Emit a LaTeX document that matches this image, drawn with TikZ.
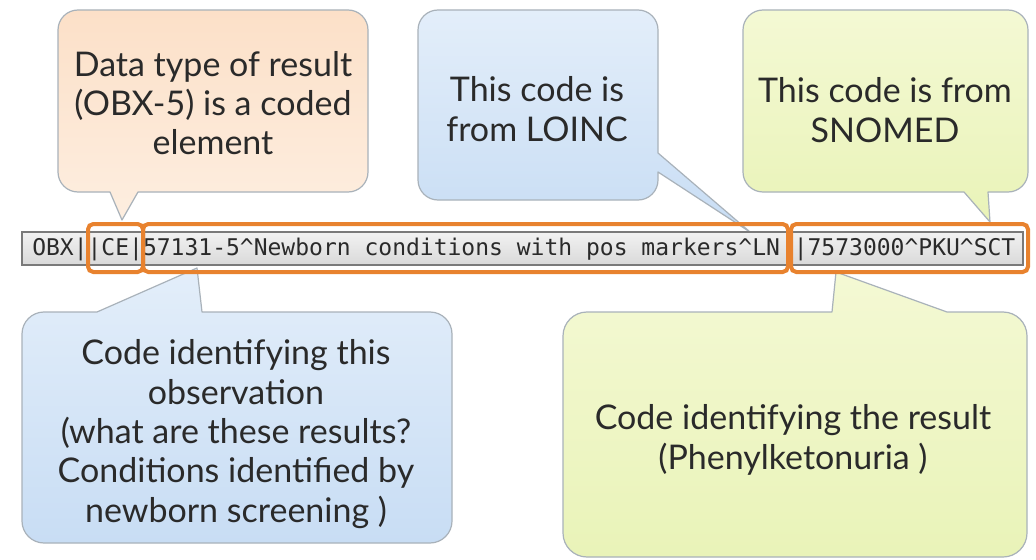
\documentclass[tikz,border=0pt]{standalone}
\usepackage{fontspec}
\setmainfont{Lato}
\setmonofont{DejaVu Sans Mono}
\definecolor{txtcol}{HTML}{2A2A2A}
\definecolor{bubline}{HTML}{A9B2BA}
\definecolor{orTop}{HTML}{FCE0C8}
\definecolor{orBot}{HTML}{FDEEE0}
\definecolor{blTop}{HTML}{E3EEFA}
\definecolor{blBot}{HTML}{C8DDF4}
\definecolor{grTop}{HTML}{F4F9D4}
\definecolor{grBot}{HTML}{E9F3B8}
\definecolor{hlor}{HTML}{E8822E}
\definecolor{barTop}{HTML}{F2F2F2}
\definecolor{barBot}{HTML}{D9D9D9}
\definecolor{barLine}{HTML}{7A7A7A}
\begin{document}
\begin{tikzpicture}[x=0.75pt,y=-0.75pt,
  bub/.style={draw=bubline, line width=0.9pt, line join=round},
  orangebub/.style={bub, top color=orTop, bottom color=orBot},
  bluebub/.style={bub, top color=blTop, bottom color=blBot},
  greenbub/.style={bub, top color=grTop, bottom color=grBot},
  txt/.style={font=\fontsize{25.5}{29.5}\selectfont, text=txtcol, align=center, inner sep=0pt},
  codebar/.style={draw=barLine, line width=1pt, top color=barTop, bottom color=barBot},
  codetxt/.style={font=\ttfamily\fontsize{17.25}{20}\selectfont, text=txtcol, inner sep=0pt, anchor=west},
  hl/.style={draw=hlor, line width=3pt, rounded corners=4pt}]
\useasboundingbox (0,0) rectangle (1036,560);
\fill[white] (0,0) rectangle (1036,560);

% orange callout (top left)
\path[orangebub] (78,10) -- (348,10) arc[start angle=270,end angle=360,radius=20]
  -- (368,172) arc[start angle=0,end angle=90,radius=20]
  -- (138,192) -- (122,220) -- (110,192)
  -- (78,192) arc[start angle=90,end angle=180,radius=20]
  -- (58,30) arc[start angle=180,end angle=270,radius=20] -- cycle;
\node[txt] (datatype) at (213,103) {Data type of result\\(OBX-5) is a coded\\element};

% blue callout (top middle)
\path[bluebub] (438,10) -- (638,10) arc[start angle=270,end angle=360,radius=20]
  -- (658,153) -- (750,232) -- (658,172)
  -- (658,180) arc[start angle=0,end angle=90,radius=20]
  -- (438,200) arc[start angle=90,end angle=180,radius=20]
  -- (418,30) arc[start angle=180,end angle=270,radius=20] -- cycle;
\node[txt] (loinc) at (537,109) {This code is\\from LOINC};

% green callout (top right)
\path[greenbub] (763,10) -- (1008,10) arc[start angle=270,end angle=360,radius=20]
  -- (1028,172) arc[start angle=0,end angle=90,radius=20]
  -- (988,192) -- (990,222) -- (964,192)
  -- (763,192) arc[start angle=90,end angle=180,radius=20]
  -- (743,30) arc[start angle=180,end angle=270,radius=20] -- cycle;
\node[txt] (snomed) at (885,110) {This code is from\\SNOMED};

% blue callout (bottom left)
\path[bluebub] (44,312) -- (97,312) -- (197,268) -- (202,312)
  -- (430,312) arc[start angle=270,end angle=360,radius=22]
  -- (452,521) arc[start angle=0,end angle=90,radius=22]
  -- (44,543) arc[start angle=90,end angle=180,radius=22]
  -- (22,334) arc[start angle=180,end angle=270,radius=22] -- cycle;
\node[txt] (obsid) at (236,434) {Code identifying this\\observation\\(what are these results?\\Conditions identified by\\newborn screening )};

% green callout (bottom right)
\path[greenbub] (587,312) -- (832,312) -- (836,272) -- (947,312)
  -- (1003,312) arc[start angle=270,end angle=360,radius=24]
  -- (1027,533) arc[start angle=0,end angle=90,radius=24]
  -- (587,557) arc[start angle=90,end angle=180,radius=24]
  -- (563,336) arc[start angle=180,end angle=270,radius=24] -- cycle;
\node[txt] (resid) at (793,440) {Code identifying the result\\(Phenylketonuria )};

% code bar
\path[codebar] (22,232) rectangle (1023,265);
\node[codetxt] (code) at (32,249) {OBX||CE|57131-5\^{}Newborn conditions with pos markers\^{}LN |7573000\^{}PKU\^{}SCT};

% orange highlights
\draw[hl] (88,224) rectangle (143,272);
\draw[hl] (143,224) rectangle (788,272);
\draw[hl] (791,224) rectangle (1028,272);
\end{tikzpicture}
\end{document}
